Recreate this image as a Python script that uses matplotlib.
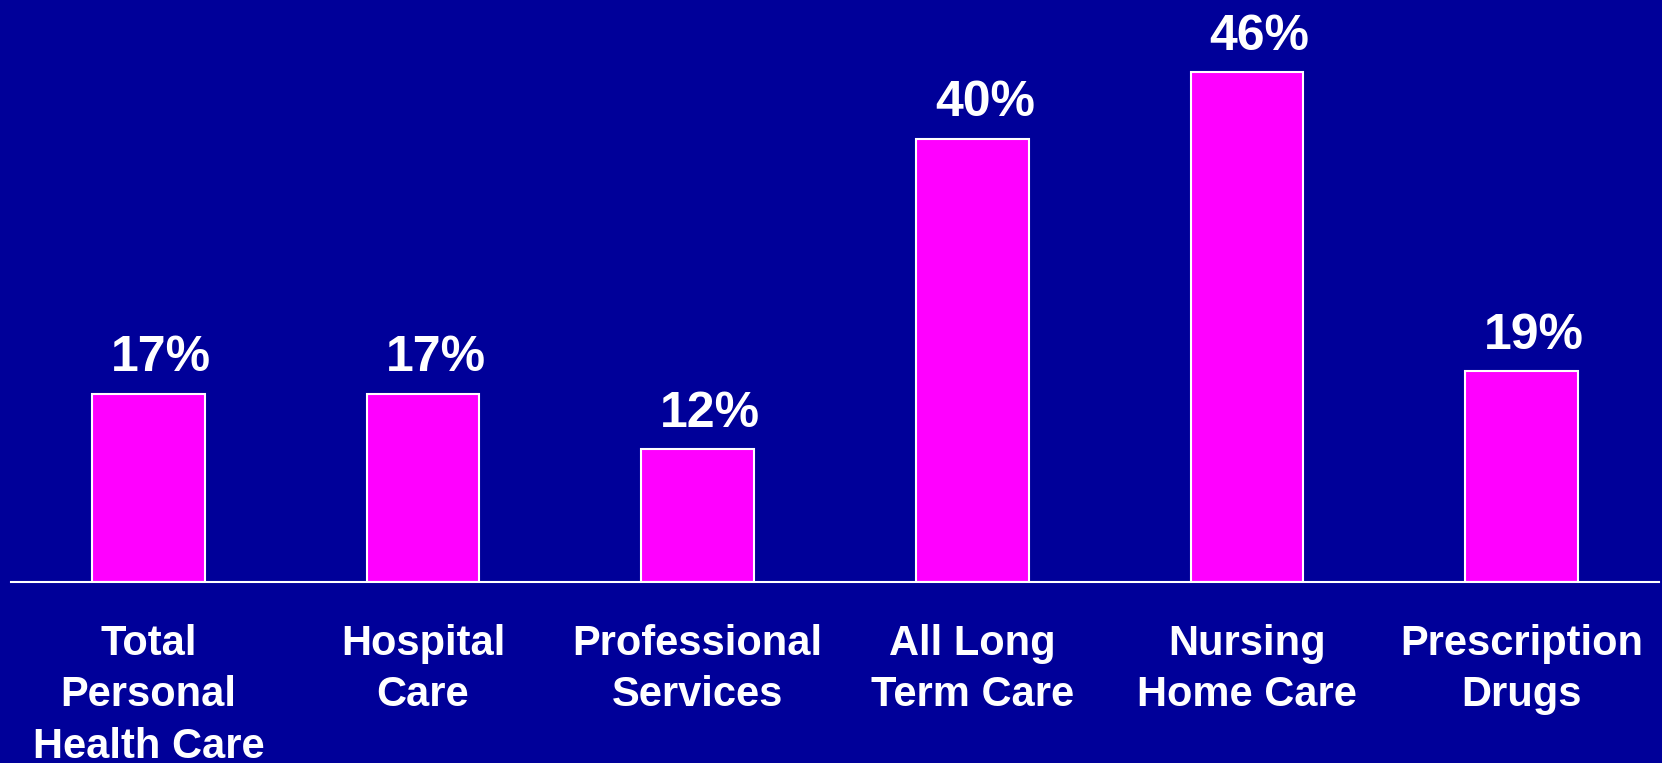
import matplotlib.pyplot as plt

categories = ["Total\nPersonal\nHealth Care", "Hospital\nCare", "Professional\nServices",
              "All Long\nTerm Care", "Nursing\nHome Care", "Prescription\nDrugs"]
values = [17, 17, 12, 40, 46, 19]
labels = ["17%", "17%", "12%", "40%", "46%", "19%"]

bg = "#000099"
plt.rcParams['font.family'] = ['Liberation Sans', 'DejaVu Sans']

fig = plt.figure(figsize=(16.62, 7.63), dpi=100, facecolor=bg)
ax = fig.add_axes([11 / 1662, 181 / 763, 1648 / 1662, 554 / 763])
ax.set_facecolor(bg)

x = range(len(values))
bars = ax.bar(x, values, width=0.41, color="#ff00ff", edgecolor="white", linewidth=1.5)

for b, lab in zip(bars, labels):
    ax.annotate(lab, (b.get_x() + b.get_width() / 2, b.get_height()),
                xytext=(9, 9), textcoords="offset points", ha="center", va="bottom",
                color="white", fontsize=36, fontweight="bold")

ax.set_xlim(-0.5, 5.5)
ax.set_ylim(0, 50)
ax.set_yticks([])
ax.set_xticks(list(x))
ax.set_xticklabels(categories, color="white", fontsize=30, fontweight="bold", linespacing=1.37)
ax.tick_params(axis="x", length=0, pad=30)
for s in ["top", "left", "right"]:
    ax.spines[s].set_visible(False)
ax.spines["bottom"].set_color("white")
ax.spines["bottom"].set_linewidth(1.5)

fig.savefig("out.png", dpi=100, facecolor=bg)
